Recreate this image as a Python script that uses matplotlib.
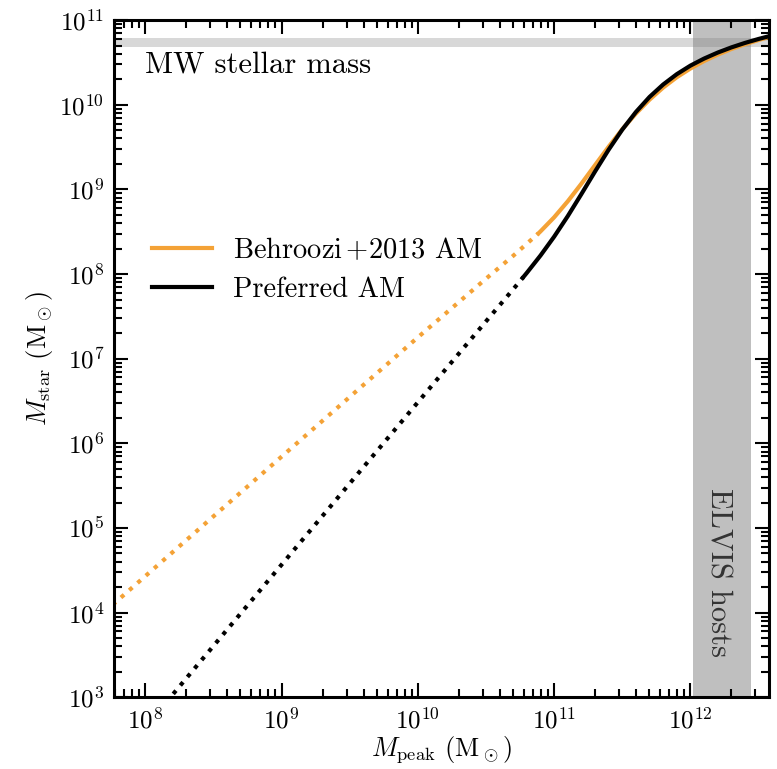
import numpy as np
import matplotlib.pyplot as plt

plt.rcParams['font.family'] = 'serif'
plt.rcParams['font.serif'] = ['cmr10']
plt.rcParams['mathtext.fontset'] = 'cm'
plt.rcParams['axes.formatter.use_mathtext'] = True
plt.rcParams['axes.unicode_minus'] = False

## stellar mass - halo mass relations, log10(M/Msun)
# Behroozi+2013, dotted extrapolation below the solid range
logm_b13_ext = [7.70, 8.50, 9.50, 10.00, 10.50, 10.70, 10.884]
logs_b13_ext = [4.007, 5.137, 6.548, 7.252, 7.945, 8.216, 8.479]
logm_b13 = [10.884, 10.9, 11.0, 11.1, 11.2, 11.3, 11.4, 11.5, 11.6, 11.7,
            11.8, 11.9, 12.0, 12.1, 12.2, 12.3, 12.4, 12.5, 12.6]
logs_b13 = [8.479, 8.504, 8.670, 8.859, 9.067, 9.286, 9.504, 9.710, 9.896, 10.060,
            10.203, 10.325, 10.428, 10.516, 10.592, 10.658, 10.714, 10.765, 10.810]

# preferred AM (steeper faint end)
logm_pref_ext = [7.70, 8.00, 9.00, 10.00, 10.50, 10.70, 10.774]
logs_pref_ext = [2.070, 2.646, 4.566, 6.485, 7.441, 7.821, 7.964]
logm_pref = [10.774, 10.8, 10.9, 11.0, 11.1, 11.2, 11.3, 11.4, 11.5, 11.6, 11.7,
             11.8, 11.9, 12.0, 12.1, 12.2, 12.3, 12.4, 12.5, 12.6]
logs_pref = [7.964, 8.015, 8.219, 8.441, 8.684, 8.945, 9.211, 9.469, 9.706, 9.914, 10.092,
             10.239, 10.361, 10.462, 10.545, 10.616, 10.677, 10.730, 10.777, 10.819]

mw_mstar = [4.8e10, 6.1e10]      # MW stellar mass range
elvis_mpeak = [1.05e12, 2.8e12]  # ELVIS host halo masses

col_b13 = '#F4A236'
col_pref = 'k'

##
fig = plt.figure(figsize=(7.77, 7.69), dpi=100)
ax = fig.add_axes([0.1467, 0.0932, 0.8436, 0.8807])

ax.axhspan(mw_mstar[0], mw_mstar[1], color='gray', alpha=0.3, lw=0)
ax.axvspan(elvis_mpeak[0], elvis_mpeak[1], color='gray', alpha=0.5, lw=0)

lw = 3
ax.plot(10**np.array(logm_b13_ext), 10**np.array(logs_b13_ext), ':', c=col_b13, lw=lw)
ax.plot(10**np.array(logm_b13), 10**np.array(logs_b13), '-', c=col_b13, lw=lw,
        label=r'Behroozi$\,$+2013 AM')
ax.plot(10**np.array(logm_pref_ext), 10**np.array(logs_pref_ext), ':', c=col_pref, lw=lw)
ax.plot(10**np.array(logm_pref), 10**np.array(logs_pref), '-', c=col_pref, lw=lw,
        label='Preferred AM')

ax.set_xscale('log')
ax.set_yscale('log')
ax.set_xlim(5.9e7, 3.8e12)
ax.set_ylim(1e3, 1e11)

# labels on the bands
ax.text(0.047, 0.923, 'MW stellar mass', transform=ax.transAxes, fontsize=22,
        ha='left', va='baseline')
ax.text(1.6e12, 3e4, 'ELVIS hosts', rotation=270, fontsize=22, color='0.2',
        ha='center', va='center')

ax.set_xlabel(r'$M_{\rm peak}$ (M$_\odot$)', fontsize=19, labelpad=1)
ax.set_ylabel(r'$M_{\rm star}$ (M$_\odot$)', fontsize=19, labelpad=3)

ax.tick_params(which='both', direction='in', top=True, right=True, width=1.5,
               labelsize=18)
ax.tick_params(which='major', length=10, pad=7)
ax.tick_params(which='minor', length=6)
for s in ax.spines.values():
    s.set_linewidth(2.2)

ax.legend(loc='center left', bbox_to_anchor=(0.058, 0.631), frameon=False,
          fontsize=20.5, handlelength=2.1, handletextpad=0.75, labelspacing=0.45,
          borderpad=0, borderaxespad=0)

fig.savefig('out.png', dpi=100)
